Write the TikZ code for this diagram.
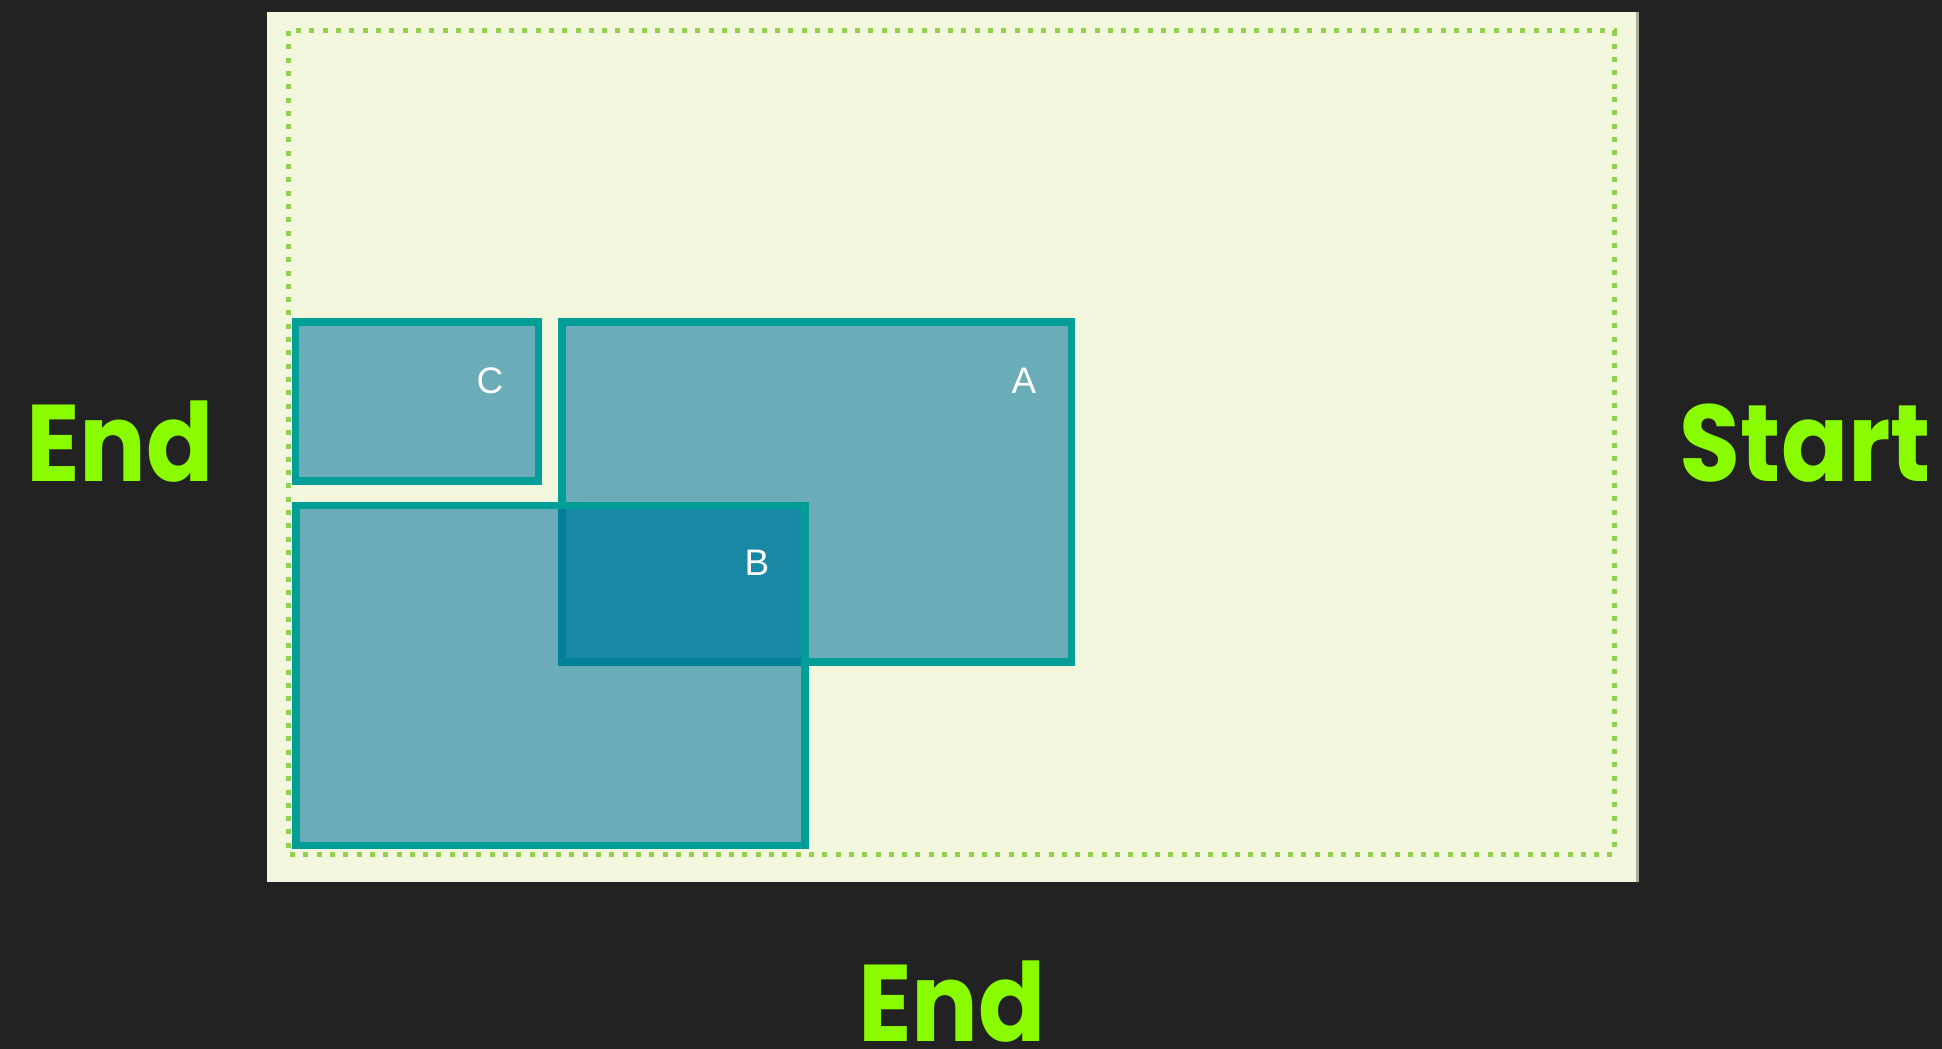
\documentclass[tikz,border=0pt]{standalone}
\usepackage{fontspec}
\newfontfamily\cornerfont{Poppins}[FakeStretch=0.91]
\newfontfamily\boxfont{Liberation Sans}
\usepackage{tikz}
\tikzset{x=0.01cm,y=-0.01cm}
\usetikzlibrary{positioning}
\definecolor{bgdark}{HTML}{222222}
\definecolor{panelbg}{HTML}{F2F7DE}
\definecolor{panelshade}{HTML}{A8AC98}
\definecolor{dotgreen}{HTML}{92D050}
\definecolor{boxblue}{HTML}{6AACB8}
\definecolor{boxteal}{HTML}{009E97}
\definecolor{overlapblue}{HTML}{1888A5}
\definecolor{overlapteal}{HTML}{007F98}
\definecolor{limegreen}{RGB}{138,252,0}
\tikzset{
  dotframe/.style={draw=dotgreen, line width=0.05cm, dash pattern=on 0.05cm off 0.083cm},
  boxedge/.style={draw=boxteal, line width=0.075cm},
  sidelabel/.style={text=limegreen, font=\cornerfont\bfseries\fontsize{31}{31}\selectfont, anchor=base, inner sep=0pt},
  boxlabel/.style={text=white, font=\boxfont\fontsize{10.5}{10.5}\selectfont, inner sep=0pt}
}

\begin{document}
\begin{tikzpicture}
    \fill[bgdark] (0,0) rectangle (1942,1049);
    \useasboundingbox (0,0) rectangle (1942,1049);
    % panel
    \fill[panelbg] (267,12) rectangle (1636,882);
    \fill[panelshade] (1636,12) rectangle (1639,882);
    \draw[dotframe] (288,31) rectangle (1614,854);
    % box A
    \fill[boxblue] (562,322) rectangle (1071.5,662);
    \draw[boxedge] (562,322) rectangle (1071.5,662);
    % lower box, overlapping A
    \fill[boxblue] (296,505.5) rectangle (804.8,845.6);
    \fill[overlapblue] (562,505.5) rectangle (804.8,662);
    \draw[overlapteal, line width=0.075cm] (562,505.5) -- (562,662) -- (804.8,662);
    \draw[boxedge] (296,505.5) rectangle (804.8,845.6);
    % box C
    \fill[boxblue] (295.7,322) rectangle (538.3,481);
    \draw[boxedge] (295.7,322) rectangle (538.3,481);
    % box letters
    \node[boxlabel] (labelA) at (1024,381) {A};
    \node[boxlabel] (labelB) at (757,563) {B};
    \node[boxlabel] (labelC) at (490,381) {C};
    % side words
    \node[sidelabel] (endleft) at (120,481.7) {End};
    \node[sidelabel] (start) at (1805.5,481.7) {Start};
    \node[sidelabel] (endbottom) at (952,1041.7) {End};
\end{tikzpicture}
\end{document}
